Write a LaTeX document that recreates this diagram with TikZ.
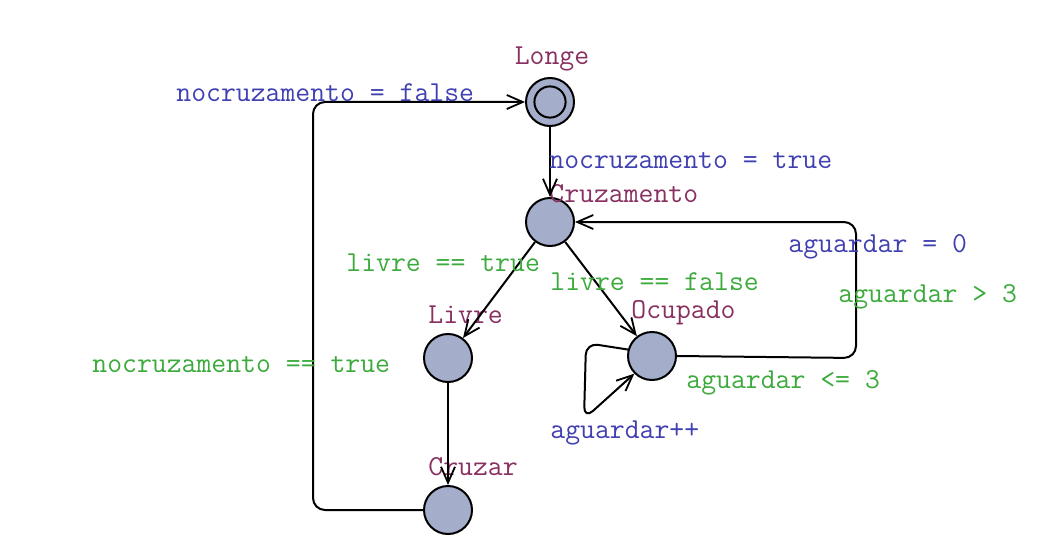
\documentclass[tikz,border=0pt]{standalone}
\usetikzlibrary{arrows.meta}
\definecolor{stfill}{RGB}{164,174,203}
\definecolor{stname}{RGB}{136,48,96}
\definecolor{upd}{RGB}{64,64,176}
\definecolor{grd}{RGB}{60,170,60}
\begin{document}
\begin{tikzpicture}[x=0.5pt,y=-0.5pt,
  state/.style={circle,draw,line width=1pt,fill=stfill,minimum size=24pt,inner sep=0pt},
  lbl/.style={font=\fontsize{14.45}{17}\selectfont\ttfamily,inner sep=0pt},
  nm/.style={lbl,text=stname},
  up/.style={lbl,text=upd},
  gd/.style={lbl,text=grd},
  tr/.style={line width=1pt,-{Straight Barb[length=8pt,width=7pt,line width=0.9pt]}}]
\useasboundingbox (0,0) rectangle (1059,551);
\node[state] (longe) at (550,102) {};
\draw[line width=1pt] (longe) circle (7.8pt);
\node[state] (cruz) at (550,222) {};
\node[state] (livre) at (448,358) {};
\node[state] (ocup) at (652,356) {};
\node[state] (cruzar) at (448,510) {};

\node[nm] at (552,59) {Longe};
\node[nm,anchor=west] at (549,194) {Cruzamento};
\node[nm,anchor=west] at (428,315) {Livre};
\node[nm,anchor=west] at (631,313) {Ocupado};
\node[nm,anchor=west] at (428,467) {Cruzar};

\draw[tr] (longe) -- (cruz);
\draw[tr] (cruz) -- (livre);
\draw[tr] (cruz) -- (ocup);
\draw[tr] (livre) -- (cruzar);
\draw[tr,rounded corners=6pt] (cruzar.west) -- (313,510) -- (313,102) -- (longe.west);
\draw[tr,rounded corners=6pt] (ocup.east) -- (856,358) -- (856,222) -- (cruz.east);
\draw[tr,rounded corners=6pt] (ocup.165) -- (586,343) -- (584,419) -- (ocup.225);

\node[up,anchor=west] at (176,93) {nocruzamento = false};
\node[up,anchor=west] at (549,161) {nocruzamento = true};
\node[gd,anchor=west] at (346,263) {livre == true};
\node[gd,anchor=west] at (550,282) {livre == false};
\node[up,anchor=west] at (788,247) {aguardar = 0};
\node[gd,anchor=west] at (838,297) {aguardar > 3};
\node[gd,anchor=west] at (686,383) {aguardar <= 3};
\node[up,anchor=west] at (550,433) {aguardar++};
\node[gd,anchor=west] at (92,365) {nocruzamento == true};
\end{tikzpicture}
\end{document}
